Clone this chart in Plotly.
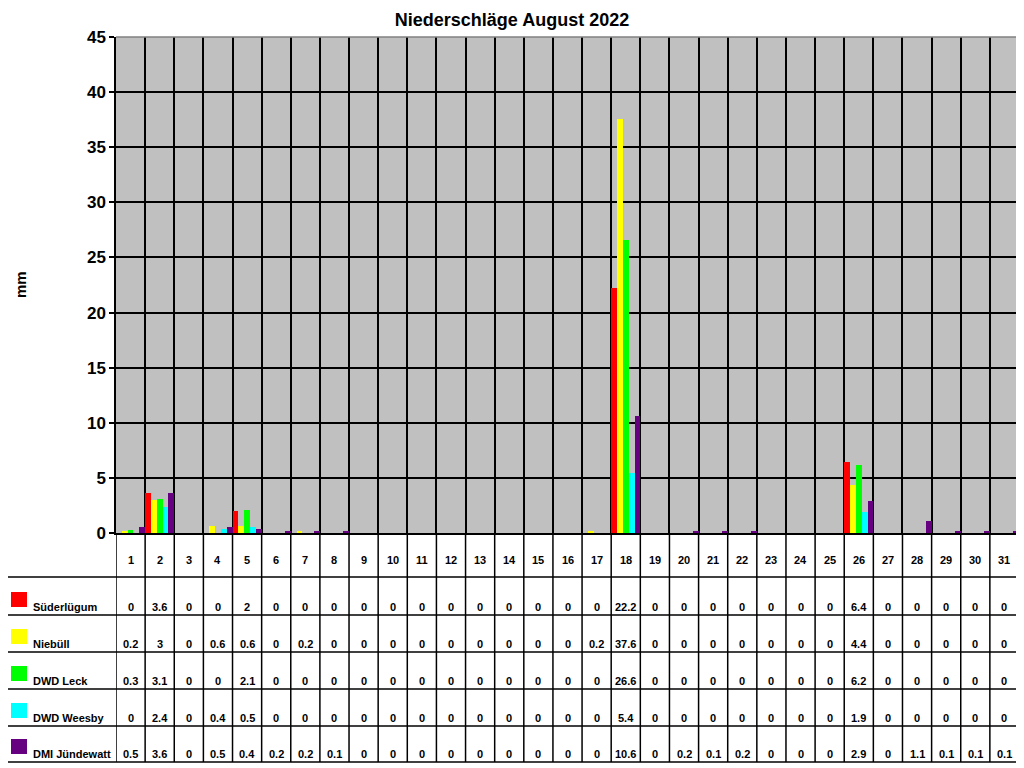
import plotly.graph_objects as go

# Tagesniederschlag August 2022 (mm)
days = list(range(1, 32))
stations = ['Süderlügum', 'Niebüll', 'DWD Leck', 'DWD Weesby', 'DMI Jündewatt']
colors = ['#FF0000', '#FFFF00', '#00FF00', '#00FFFF', '#660080']

suederluegum = [0, 3.6, 0, 0, 2, 0, 0, 0, 0, 0, 0, 0, 0, 0, 0, 0, 0, 22.2, 0, 0,
                0, 0, 0, 0, 0, 6.4, 0, 0, 0, 0, 0]
niebuell = [0.2, 3, 0, 0.6, 0.6, 0, 0.2, 0, 0, 0, 0, 0, 0, 0, 0, 0, 0.2, 37.6, 0, 0,
            0, 0, 0, 0, 0, 4.4, 0, 0, 0, 0, 0]
leck = [0.3, 3.1, 0, 0, 2.1, 0, 0, 0, 0, 0, 0, 0, 0, 0, 0, 0, 0, 26.6, 0, 0,
        0, 0, 0, 0, 0, 6.2, 0, 0, 0, 0, 0]
weesby = [0, 2.4, 0, 0.4, 0.5, 0, 0, 0, 0, 0, 0, 0, 0, 0, 0, 0, 0, 5.4, 0, 0,
          0, 0, 0, 0, 0, 1.9, 0, 0, 0, 0, 0]
juendewatt = [0.5, 3.6, 0, 0.5, 0.4, 0.2, 0.2, 0.1, 0, 0, 0, 0, 0, 0, 0, 0, 0, 10.6, 0, 0.2,
              0.1, 0.2, 0, 0, 0, 2.9, 0, 1.1, 0.1, 0.1, 0.1]
series = [suederluegum, niebuell, leck, weesby, juendewatt]

FONT = 'Liberation Sans'
OFF = 8                      # page body margin
FW, FH = 1024 - OFF, 768 - OFF
L, R, T, B = 116, 1019, 37, 533   # plot area in screen pixels
W = R - L
H = B - T


def px_y(p):
    return (B - p) / H


def px_x(p):
    return (p - L) / W


fig = go.Figure()
for name, vals, col in zip(stations, series, colors):
    fig.add_trace(go.Bar(x=days, y=vals, name=name, marker=dict(color=col, line=dict(width=0))))

shapes = []
annotations = []

# table: header row + one row per station
row_lines = [577, 615, 652, 689, 726, 762]
table_bottom = px_y(row_lines[-1])
for k in range(32):
    shapes.append(dict(type='line', xref='x', yref='paper', x0=k + 0.5, x1=k + 0.5,
                       y0=0, y1=table_bottom, line=dict(color='black', width=1.5)))
for p in row_lines:
    shapes.append(dict(type='line', xref='paper', yref='paper', x0=px_x(7), x1=1,
                       y0=px_y(p), y1=px_y(p), line=dict(color='black', width=1.5)))
shapes.append(dict(type='line', xref='paper', yref='paper', x0=px_x(7), x1=px_x(7),
                   y0=px_y(row_lines[0]), y1=table_bottom, line=dict(color='black', width=1.5)))
# plot border (grey top/right)
shapes.append(dict(type='line', xref='paper', yref='paper', x0=0, x1=1, y0=1, y1=1,
                   line=dict(color='#808080', width=1.5)))
shapes.append(dict(type='line', xref='paper', yref='paper', x0=1, x1=1, y0=0, y1=1,
                   line=dict(color='#808080', width=1.5)))

for d in days:
    annotations.append(dict(x=d, y=px_y(560), xref='x', yref='paper', text=str(d),
                            xanchor='center', yanchor='middle', showarrow=False,
                            font=dict(family=FONT, size=11, color='black')))

for i, (name, vals, col) in enumerate(zip(stations, series, colors)):
    bottom = row_lines[i + 1]
    yc = px_y(bottom - 8)
    shapes.append(dict(type='rect', xref='paper', yref='paper', x0=px_x(11), x1=px_x(27),
                       y0=px_y(bottom - 8), y1=px_y(bottom - 23), fillcolor=col,
                       line=dict(width=0)))
    annotations.append(dict(x=px_x(31), y=yc, xref='paper', yref='paper', text=name,
                            xanchor='left', yanchor='middle', showarrow=False,
                            font=dict(family=FONT, size=11, color='black')))
    for d, v in zip(days, vals):
        annotations.append(dict(x=d, y=yc, xref='x', yref='paper', text=f'{v:g}',
                                xanchor='center', yanchor='middle', showarrow=False,
                                font=dict(family=FONT, size=11, color='black')))

annotations.append(dict(x=px_x(20), y=0.5, xref='paper', yref='paper', text='<b>mm</b>',
                        textangle=-90, xanchor='center', yanchor='middle', showarrow=False,
                        font=dict(family=FONT, size=15, color='black')))

for a in annotations:
    if not a['text'].startswith('<b>'):
        a['text'] = '<b>' + a['text'] + '</b>'

fig.update_layout(
    width=FW, height=FH, autosize=False,
    margin=dict(l=L - OFF, r=1024 - R, t=T - OFF, b=768 - B, pad=0),
    paper_bgcolor='white', plot_bgcolor='#C0C0C0',
    barmode='group', bargap=0, bargroupgap=0,
    showlegend=False,
    title=dict(text='<b>Niederschläge August 2022</b>', x=(512 - OFF) / FW, xref='container',
               y=1 - (20 - OFF) / FH, yanchor='middle', xanchor='center',
               font=dict(family=FONT, size=18, color='black')),
    xaxis=dict(range=[0.5, 31.5], tickvals=[k + 0.5 for k in range(32)], showticklabels=False,
               ticks='', showgrid=True, gridcolor='black', gridwidth=1.5,
               showline=True, linecolor='black', linewidth=1.5, zeroline=False),
    yaxis=dict(range=[0, 45], dtick=5, tick0=0, ticks='outside', ticklen=5, tickcolor='black',
               tickwidth=1.5, showgrid=True, gridcolor='black', gridwidth=1.5,
               showline=True, linecolor='black', linewidth=1.5, zeroline=False,
               tickfont=dict(family=FONT, size=17, color='black'),
               tickprefix='<b>', ticksuffix='</b>'),
    shapes=shapes, annotations=annotations,
)

fig.write_html('out.html')
